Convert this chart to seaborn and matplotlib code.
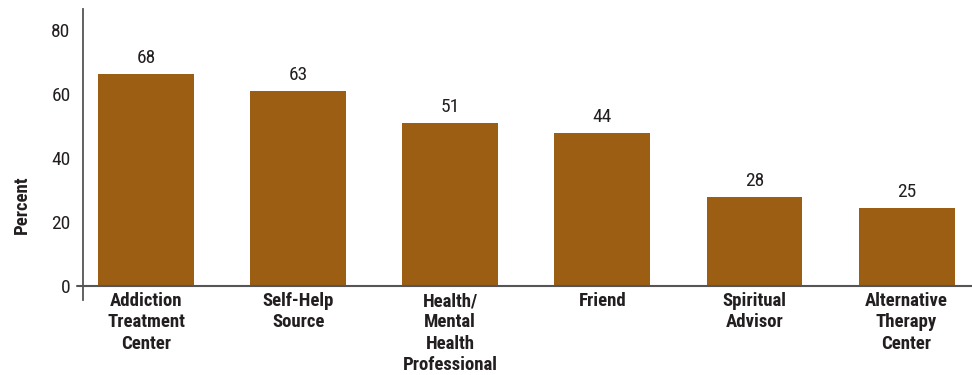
import matplotlib
matplotlib.use("Agg")
import matplotlib.pyplot as plt
import seaborn as sns
import pandas as pd
from matplotlib import font_manager

categories = ["Addiction\nTreatment\nCenter", "Self-Help\nSource", "Health/\nMental\nHealth\nProfessional",
              "Friend", "Spiritual\nAdvisor", "Alternative\nTherapy\nCenter"]
bar_heights = [66.3, 61.0, 51.0, 47.8, 27.8, 24.4]
value_labels = ["68", "63", "51", "44", "28", "25"]
yticks = [0, 20, 40, 60, 80]

sns.set_theme(style="white")
names = {f.name for f in font_manager.fontManager.ttflist}
fam = "DejaVu Sans"
for cand in ["Roboto Condensed", "Liberation Sans Narrow", "Open Sans Condensed", "Arial Narrow",
             "Roboto", "Liberation Sans"]:
    if cand in names:
        fam = cand
        break
plt.rcParams["font.family"] = [fam, "DejaVu Sans"]

TXT = "#231F20"
BAR = "#9C5E12"
AX = "#555555"

df = pd.DataFrame({"cat": categories, "val": bar_heights})

fig = plt.figure(figsize=(9.72, 3.75), dpi=100)
ax = fig.add_axes([83/972, 75/375, 1 - 83/972, 291/375])
sns.barplot(data=df, x="cat", y="val", color=BAR, saturation=1, width=0.63, ax=ax, linewidth=0)

ax.set_xlim(-0.414, 5.43)
ax.set_ylim(-4.4, 86.6)
ax.set_yticks(yticks)
ax.set_yticklabels([str(t) for t in yticks], fontsize=14, color=TXT)
ax.tick_params(axis="y", length=0, pad=9)
ax.tick_params(axis="x", length=0, pad=-5.5)
for lab in ax.get_xticklabels():
    lab.set_fontweight("bold")
    lab.set_fontsize(13.5)
    lab.set_color(TXT)
    lab.set_linespacing(1.22)

for s in ["top", "right", "bottom"]:
    ax.spines[s].set_visible(False)
ax.spines["left"].set_color(AX)
ax.spines["left"].set_linewidth(1.3)

ax.plot([-0.414 - 6/152, 5.43], [0, 0], color=AX, lw=1.5, clip_on=False, zorder=3)

for p, lbl in zip(ax.patches, value_labels):
    ax.annotate(lbl, (p.get_x() + p.get_width()/2, p.get_height()), xytext=(0, 5),
                textcoords="offset points", ha="center", va="bottom", fontsize=14, color=TXT)

ax.set_xlabel("")
ax.set_ylabel("")
ax.text(-0.069, 0.326, "Percent", transform=ax.transAxes, rotation=90, ha="center", va="center",
        fontsize=13.5, fontweight="bold", color=TXT)

fig.savefig("out.png", dpi=100)
